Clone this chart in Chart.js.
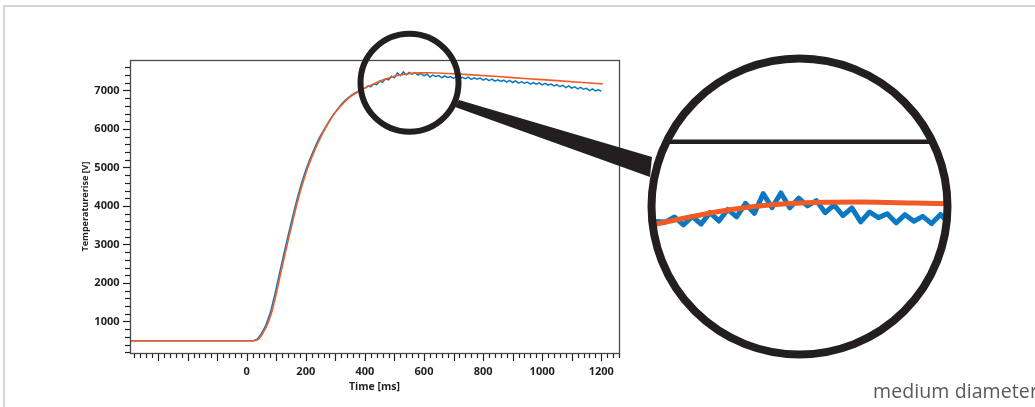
<!DOCTYPE html>
<html lang="en">
<head>
<meta charset="UTF-8">
<title>Temperature rise</title>
<style>
  html, body { margin: 0; padding: 0; background: #fff; }
  #wrap { position: relative; width: 1035px; height: 407px; overflow: hidden; }
  #frame { position: absolute; left: 3px; top: 5px; width: 1100px; height: 500px;
           border-top: 2px solid #d6d6d6; border-left: 2px solid #d6d6d6; }
  #caption { position: absolute; left: 873px; top: 377px; font: 19.5px 'Open Sans', sans-serif;
             letter-spacing: 0.1px; color: #58595b; white-space: nowrap; line-height: normal; }
  canvas { position: absolute; left: 0; top: 0; }
</style>
</head>
<body>
<div id="wrap">
  <div id="frame"></div>
  <canvas id="chart" width="1035" height="407"></canvas>
  <div id="caption">medium diameter</div>
</div>
<script src="https://cdn.jsdelivr.net/npm/chart.js"></script>
<script>
// fitted curve (orange)
const fitMs = [-395, 25, 40, 55, 70, 85, 100, 115, 130, 145, 160, 175, 190, 205, 220, 240, 260, 280, 300,
               325, 350, 375, 400, 430, 460, 500, 540, 580, 620, 680, 750, 850, 950, 1050, 1150, 1205];
const fitV = [500, 500, 540, 700, 920, 1250, 1720, 2250, 2760, 3260, 3740, 4200, 4600, 4960, 5260, 5620, 5930, 6200, 6430,
              6650, 6830, 6960, 7060, 7170, 7270, 7370, 7430, 7455, 7460, 7440, 7410, 7360, 7305, 7255, 7200, 7170];

// measured signal (blue)
const measMs = [-395, 22, 35, 50, 65, 80, 95, 110, 125, 140, 155, 170, 185, 200, 215, 230, 245, 258, 270, 282, 295, 310, 325, 340, 355, 370,
  380, 390, 400, 410, 420, 430, 440, 450, 460, 470, 480, 490, 500, 510, 520, 530, 540, 550, 560, 570, 580, 590,
  600, 610, 620, 630, 640, 650, 660, 670, 680, 690, 700, 710, 720, 730, 740, 750, 760, 770, 780, 790,
  800, 810, 820, 830, 840, 850, 860, 870, 880, 890, 900, 910, 920, 930, 940, 950, 960, 970, 980, 990,
  1000, 1010, 1020, 1030, 1040, 1050, 1060, 1070, 1080, 1090, 1100, 1110, 1120, 1130, 1140, 1150, 1160, 1170, 1180, 1190, 1200];
const measV = [500, 500, 535, 690, 905, 1230, 1690, 2215, 2730, 3225, 3710, 4170, 4575, 4935, 5240, 5510, 5760, 5930, 6090, 6240, 6390, 6540, 6680, 6790, 6880, 6950,
  6985, 7035, 7060, 7115, 7095, 7170, 7150, 7240, 7215, 7300, 7275, 7370, 7330, 7455, 7385, 7480, 7405, 7465, 7425, 7460, 7395, 7440,
  7380, 7425, 7345, 7400, 7365, 7385, 7330, 7375, 7335, 7360, 7315, 7365, 7310, 7340, 7305, 7345, 7285, 7325, 7290, 7320,
  7265, 7305, 7255, 7295, 7240, 7275, 7235, 7265, 7215, 7260, 7205, 7245, 7190, 7225, 7185, 7215, 7165, 7205, 7160, 7195,
  7145, 7185, 7135, 7165, 7115, 7150, 7095, 7130, 7075, 7120, 7060, 7095, 7040, 7080, 7030, 7055, 6995, 7040, 6985, 7020, 6975];

const xTickLabels = [0, 200, 400, 600, 800, 1000, 1200];
const yTickLabels = [1000, 2000, 3000, 4000, 5000, 6000, 7000];

const ink = '#231f20';
const orange = '#f15a24';
const blue = '#0a78c2';

Chart.defaults.font.family = "'Open Sans', sans-serif";
Chart.defaults.color = ink;

// box, minor/major tick marks
const axisMarks = {
  id: 'axisMarks',
  afterDraw(chart) {
    const ctx = chart.ctx, a = chart.chartArea;
    const xs = chart.scales.x, ys = chart.scales.y;
    ctx.save();
    ctx.strokeStyle = ink;
    ctx.lineWidth = 1.2;
    for (let v = -380; v <= xs.max; v += 20) {
      const px = Math.round(xs.getPixelForValue(v)) + 0.5;
      const len = v % 100 === 0 ? 8 : 5;
      ctx.beginPath(); ctx.moveTo(px, a.bottom); ctx.lineTo(px, a.bottom + len); ctx.stroke();
    }
    for (let v = 200; v <= ys.max; v += 200) {
      const py = Math.round(ys.getPixelForValue(v)) + 0.5;
      const len = v % 1000 === 0 ? 7 : 5;
      ctx.beginPath(); ctx.moveTo(a.left - len, py); ctx.lineTo(a.left, py); ctx.stroke();
    }
    ctx.strokeStyle = '#4a4a4a';
    ctx.lineWidth = 1.3;
    ctx.strokeRect(a.left + 0.5, a.top + 0.5, a.right - a.left, a.bottom - a.top);
    ctx.restore();
  }
};

// magnifying glass
const magnifier = {
  id: 'magnifier',
  afterDraw(chart) {
    const ctx = chart.ctx, a = chart.chartArea;
    const fit = chart.getDatasetMeta(0).data;
    const meas = chart.getDatasetMeta(1).data;
    const small = { x: 409.5, y: 82.8, r: 49 };
    const big = { x: 799.5, y: 206.5, r: 148 };
    const sx = 3.0, ky = 1.3, dev = 4.5;
    let peakY = Infinity;
    fit.forEach(p => { if (p.y < peakY) peakY = p.y; });
    const tx = x => big.x + (x - small.x) * sx;
    const ty = y => big.y - 4.5 + (y - peakY) * ky;
    const fitAt = x => {
      for (let i = 1; i < fit.length; i++) {
        if (x <= fit[i].x) {
          const p0 = fit[i - 1], p1 = fit[i];
          const t = (x - p0.x) / (p1.x - p0.x);
          return p0.y + t * (p1.y - p0.y);
        }
      }
      return fit[fit.length - 1].y;
    };

    ctx.save();
    // handle
    ctx.fillStyle = ink;
    ctx.beginPath();
    ctx.moveTo(459, 100); ctx.lineTo(652, 157); ctx.lineTo(650, 177); ctx.lineTo(455, 107);
    ctx.closePath(); ctx.fill();

    // inside of the big lens
    ctx.save();
    ctx.beginPath(); ctx.arc(big.x, big.y, big.r, 0, Math.PI * 2);
    ctx.fillStyle = '#fff'; ctx.fill();
    ctx.clip();
    ctx.lineJoin = 'round';
    // plot top border, magnified
    ctx.strokeStyle = ink; ctx.lineWidth = 4.5;
    const lineY = ty(peakY) + (a.top - peakY) * dev - 3;
    ctx.beginPath(); ctx.moveTo(big.x - big.r, lineY); ctx.lineTo(big.x + big.r, lineY); ctx.stroke();
    // measured
    ctx.strokeStyle = blue; ctx.lineWidth = 5;
    ctx.beginPath();
    meas.forEach((p, i) => {
      const o = fitAt(p.x);
      const X = tx(p.x), Y = ty(o) + (p.y - o) * dev;
      if (i === 0) ctx.moveTo(X, Y); else ctx.lineTo(X, Y);
    });
    ctx.stroke();
    // fit
    ctx.strokeStyle = orange; ctx.lineWidth = 5;
    ctx.beginPath();
    fit.forEach((p, i) => {
      if (i === 0) { ctx.moveTo(tx(p.x), ty(p.y)); return; }
      const q = fit[i - 1];
      ctx.bezierCurveTo(tx(q.cp2x), ty(q.cp2y), tx(p.cp1x), ty(p.cp1y), tx(p.x), ty(p.y));
    });
    ctx.stroke();
    ctx.restore();

    // rings
    ctx.strokeStyle = ink;
    ctx.lineWidth = 8;
    ctx.beginPath(); ctx.arc(big.x, big.y, big.r, 0, Math.PI * 2); ctx.stroke();
    ctx.lineWidth = 6;
    ctx.beginPath(); ctx.arc(small.x, small.y, small.r, 0, Math.PI * 2); ctx.stroke();
    ctx.restore();
  }
};

const ctx = document.getElementById('chart');
const chart = new Chart(ctx, {
  type: 'line',
  data: {
    datasets: [
      {
        label: 'fit',
        data: fitMs.map((x, i) => ({ x: x, y: fitV[i] })),
        borderColor: orange,
        borderWidth: 1.6,
        pointRadius: 0,
        cubicInterpolationMode: 'monotone',
        fill: false
      },
      {
        label: 'measured',
        data: measMs.map((x, i) => ({ x: x, y: measV[i] })),
        borderColor: blue,
        borderWidth: 1.5,
        pointRadius: 0,
        tension: 0,
        fill: false
      }
    ]
  },
  options: {
    responsive: false,
    animation: false,
    layout: { padding: { left: 0, top: 60, right: 416, bottom: 0 } },
    plugins: { legend: { display: false }, tooltip: { enabled: false } },
    scales: {
      x: {
        type: 'linear',
        min: -395,
        max: 1260,
        afterBuildTicks: s => { s.ticks = xTickLabels.map(v => ({ value: v })); },
        afterFit: s => { s.height = 54; },
        grid: { display: false, drawTicks: false },
        border: { display: false },
        ticks: { autoSkip: false, maxRotation: 0, padding: 12, color: ink,
                 font: { size: 11, weight: 'bold' }, callback: v => String(v) },
        title: { display: true, text: 'Time [ms]', color: ink,
                 font: { size: 10.5, weight: 'bold' }, padding: { top: 0, bottom: 14 } }
      },
      y: {
        type: 'linear',
        min: 180,
        max: 7790,
        afterBuildTicks: s => { s.ticks = yTickLabels.map(v => ({ value: v })); },
        afterFit: s => { s.width = 130; },
        grid: { display: false, drawTicks: false },
        border: { display: false },
        ticks: { autoSkip: false, padding: 10.5, color: ink,
                 font: { size: 11, weight: 'bold' }, callback: v => String(v) },
        title: { display: true, text: 'Temperaturerise [V]', color: ink,
                 font: { size: 9, weight: 'bold' }, padding: { top: 80, bottom: 0 } }
      }
    }
  },
  plugins: [axisMarks, magnifier]
});
</script>
</body>
</html>
